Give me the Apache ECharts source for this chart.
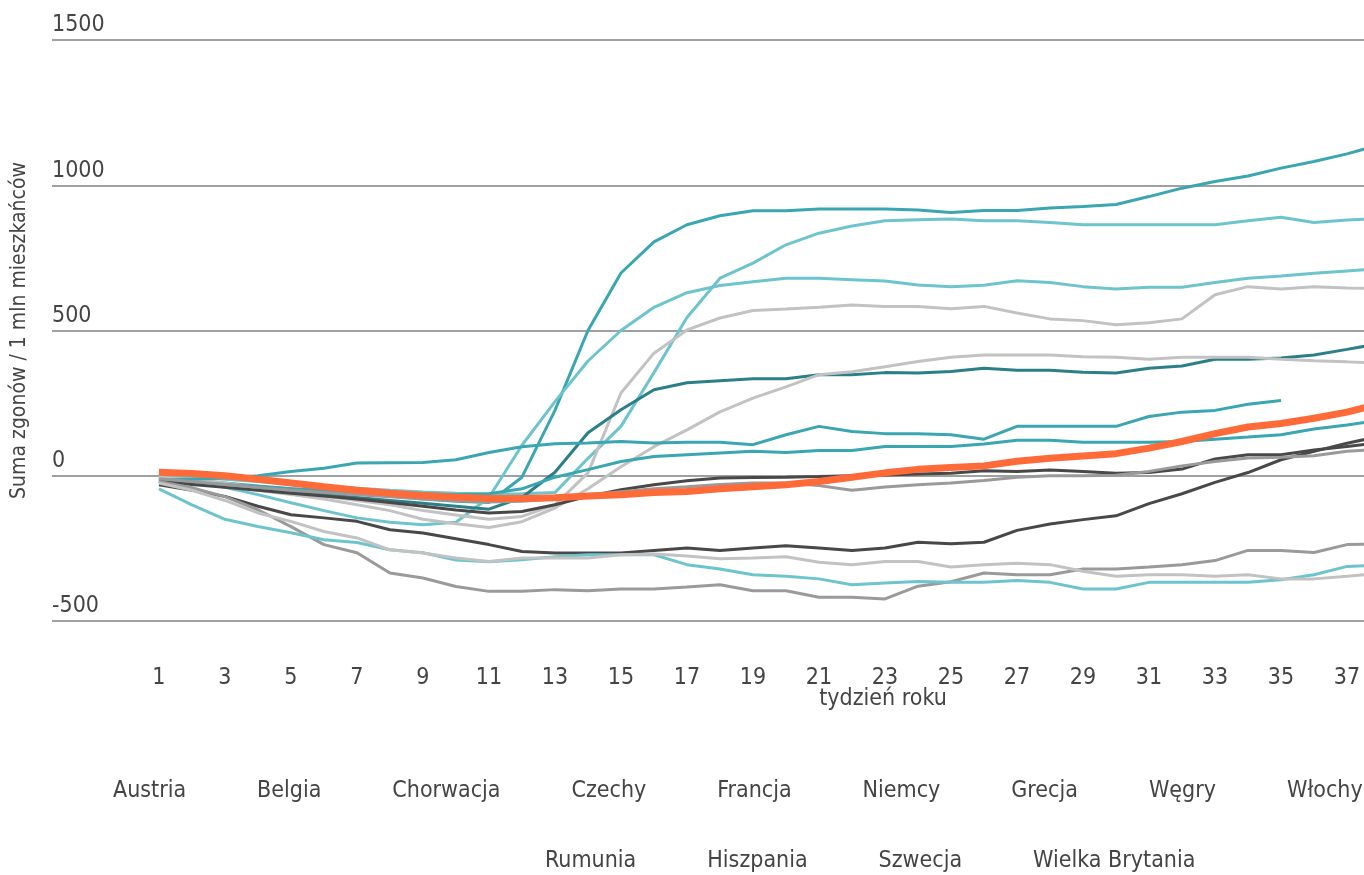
<!DOCTYPE html>
<html>
<head>
<meta charset="utf-8">
<title>Suma zgonów / 1 mln mieszkańców</title>
<script src="https://cdn.jsdelivr.net/npm/echarts@6/dist/echarts.min.js"></script>
<style>
    html, body { margin: 0; padding: 0; background: #fff; }
    #main { width: 1364px; height: 875px; }
</style>
</head>
<body>
<div id="main"></div>
<script>
// tygodnie roku
const weeks = [1, 2, 3, 4, 5, 6, 7, 8, 9, 10, 11, 12, 13, 14, 15, 16, 17, 18, 19, 20,
    21, 22, 23, 24, 25, 26, 27, 28, 29, 30, 31, 32, 33, 34, 35, 36, 37, 38];
const weekTicks = [1, 3, 5, 7, 9, 11, 13, 15, 17, 19, 21, 23, 25, 27, 29, 31, 33, 35, 37];

const hiszpania = [-10, -15, -25, -35, -45, -55, -62, -70, -80, -88, -92, -5, 225, 500, 698, 805, 864, 895, 912, 912,
    918, 918, 918, 915, 906, 913, 913, 922, 927, 934, 961, 990, 1013, 1032, 1059, 1082, 1108, 1140];
const wielkaBrytania = [0, -5, -12, -20, -28, -36, -43, -50, -56, -60, -63, -62, -58, 60, 170, 355, 545, 680, 732, 795,
    835, 860, 878, 881, 884, 878, 878, 872, 864, 864, 864, 864, 864, 878, 890, 872, 880, 885];
const wlochy = [-5, -20, -40, -65, -93, -120, -145, -160, -169, -160, -75, 105, 255, 395, 500, 580, 630, 655, 668, 680,
    680, 675, 670, 657, 651, 656, 671, 665, 651, 643, 649, 649, 665, 680, 688, 697, 705, 713];
const belgia = [-5, -15, -25, -40, -55, -70, -85, -100, -120, -135, -150, -140, -100, 10, 285, 422, 502, 543, 569, 574,
    580, 588, 583, 583, 575, 583, 560, 540, 534, 520, 527, 540, 623, 651, 643, 651, 646, 645];
const francja = [-15, -25, -35, -45, -55, -65, -75, -85, -95, -105, -115, -75, 12, 148, 227, 296, 320, 327, 334, 334,
    348, 348, 355, 354, 359, 370, 363, 363, 356, 354, 370, 378, 401, 401, 405, 416, 435, 455];
const szwecja = [-10, -20, -35, -50, -65, -80, -100, -120, -150, -165, -178, -158, -111, -45, 31, 100, 158, 220, 267, 306,
    348, 358, 375, 393, 408, 416, 416, 416, 410, 408, 401, 408, 408, 408, 401, 396, 392, 387];
const holandia = [-15, -12, -8, 0, 15, 26, 44, 45, 46, 55, 80, 100, 110, 113, 118, 113, 115, 115, 107, 141,
    170, 152, 145, 145, 141, 126, 170, 170, 170, 170, 204, 219, 225, 246, 259, null, null, null];
const austria = [-20, -25, -30, -38, -45, -50, -55, -60, -62, -65, -62, -45, -5, 21, 49, 66, 72, 78, 84, 80,
    87, 87, 101, 101, 101, 109, 122, 122, 115, 115, 115, 118, 126, 133, 141, 161, 175, 191];
const rumunia = [-31, -50, -71, -105, -134, -145, -157, -186, -197, -217, -237, -261, -266, -266, -266, -257, -249, -257, -249, -241,
    -249, -257, -249, -229, -234, -229, -188, -166, -151, -138, -96, -62, -23, 11, 55, 84, 112, 136];
const czechy = [-20, -30, -40, -50, -60, -70, -80, -92, -105, -118, -128, -123, -100, -71, -48, -31, -17, -8, -6, -5,
    -3, 0, 3, 6, 9, 17, 15, 20, 15, 9, 11, 23, 58, 72, 72, 89, 101, 113];
const wegry = [-10, -20, -30, -40, -50, -58, -65, -72, -80, -85, -90, -88, -80, -65, -55, -45, -38, -30, -25, -25,
    -34, -50, -39, -31, -25, -16, -5, 0, 0, 2, 15, 34, 49, 61, 64, 69, 84, 92];
const niemcy = [-20, -41, -72, -117, -175, -237, -265, -335, -352, -381, -398, -398, -392, -396, -390, -390, -383, -375, -396, -396,
    -418, -418, -424, -380, -365, -335, -341, -341, -321, -321, -314, -306, -292, -257, -257, -264, -237, -235];
const chorwacja = [-45, -100, -150, -175, -196, -220, -230, -255, -265, -290, -296, -289, -279, -272, -272, -272, -306, -321, -341, -346,
    -355, -375, -369, -364, -367, -367, -361, -367, -390, -390, -367, -367, -367, -367, -358, -341, -312, -308];
const grecja = [-25, -50, -85, -128, -157, -192, -214, -255, -266, -283, -295, -283, -283, -283, -272, -269, -276, -286, -283, -279,
    -298, -306, -295, -295, -314, -306, -301, -306, -329, -346, -341, -341, -346, -341, -355, -355, -346, -336];
const polska = [12, 8, 0, -12, -25, -38, -50, -60, -68, -74, -78, -78, -76, -70, -65, -58, -54, -45, -38, -31,
    -20, -5, 10, 22, 28, 34, 50, 60, 68, 76, 95, 118, 145, 168, 180, 198, 219, 247];

const legendRow1 = ['Austria', 'Belgia', 'Chorwacja', 'Czechy', 'Francja', 'Niemcy', 'Grecja', 'Węgry', 'Włochy'];
const legendRow2 = ['Rumunia', 'Hiszpania', 'Szwecja', 'Wielka Brytania'];

const FONT = "'Liberation Sans Narrow', 'DejaVu Sans Condensed', 'Roboto Condensed', sans-serif";
const TEXT = '#444444';

const TEAL = '#3aa6b1';
const LIGHT_TEAL = '#6dc4cc';
const DARK_TEAL = '#2b7f87';
const LIGHT_GRAY = '#c2c2c2';
const MID_GRAY = '#9a9a9a';
const DARK_GRAY = '#484848';
const ORANGE = '#ff6a39';

function makeLine(name, values, color, width) {
    return {
        name: name,
        type: 'line',
        data: weeks.map((w, i) => [w, values[i]]),
        symbol: 'none',
        color: color,
        lineStyle: { color: color, width: width || 3 },
        z: width ? 3 : 2
    };
}

// legenda bez ikon, sam tekst
function makeLegend(names, left, top) {
    return {
        data: names,
        left: left,
        top: top,
        width: 1300,
        padding: 0,
        icon: 'none',
        itemWidth: 0,
        itemHeight: 10,
        itemGap: 66,
        selectedMode: false,
        textStyle: { fontSize: 23, color: TEXT, fontFamily: FONT }
    };
}

function init() {
    const dom = document.getElementById('main');
    const chart = echarts.init(dom, null, { renderer: 'canvas' });

    const options = {
        animation: false,
        textStyle: { fontFamily: FONT },
        grid: { left: 52, right: 0, top: 40, bottom: 254, containLabel: false, outerBoundsMode: 'none' },
        legend: [
            makeLegend(legendRow1, 108, 780),
            makeLegend(legendRow2, 540, 850)
        ],
        xAxis: {
            type: 'value',
            min: -2.24,
            max: 37.515,
            name: 'tydzień roku',
            nameLocation: 'middle',
            nameGap: 67,
            nameMoveOverlap: false,
            nameTextStyle: { fontSize: 23, color: TEXT, fontFamily: FONT, padding: [0, 0, 0, 350] },
            axisLine: { show: false },
            axisTick: { show: false },
            splitLine: { show: false },
            axisLabel: {
                customValues: weekTicks,
                margin: 46,
                fontSize: 23,
                color: TEXT,
                fontFamily: FONT
            }
        },
        yAxis: {
            type: 'value',
            min: -500,
            max: 1500,
            interval: 500,
            name: 'Suma zgonów / 1 mln mieszkańców',
            nameLocation: 'middle',
            nameGap: 22,
            nameTextStyle: { fontSize: 21, color: TEXT, fontFamily: FONT },
            axisLine: { show: false },
            axisTick: { show: false },
            splitLine: { lineStyle: { color: '#a0a0a0', width: 2 } },
            axisLabel: {
                inside: true,
                margin: 0,
                verticalAlign: 'bottom',
                padding: [0, 0, 3, 0],
                fontSize: 23,
                color: TEXT,
                fontFamily: FONT,
                formatter: (v) => String(v)
            }
        },
        series: [
            makeLine('Hiszpania', hiszpania, TEAL),
            makeLine('Wielka Brytania', wielkaBrytania, LIGHT_TEAL),
            makeLine('Włochy', wlochy, LIGHT_TEAL),
            makeLine('Belgia', belgia, LIGHT_GRAY),
            makeLine('Francja', francja, DARK_TEAL),
            makeLine('Szwecja', szwecja, LIGHT_GRAY),
            makeLine('Holandia', holandia, TEAL),
            makeLine('Austria', austria, TEAL),
            makeLine('Rumunia', rumunia, DARK_GRAY),
            makeLine('Czechy', czechy, DARK_GRAY),
            makeLine('Węgry', wegry, MID_GRAY),
            makeLine('Niemcy', niemcy, MID_GRAY),
            makeLine('Chorwacja', chorwacja, LIGHT_TEAL),
            makeLine('Grecja', grecja, LIGHT_GRAY),
            makeLine('Polska', polska, ORANGE, 7)
        ]
    };
    chart.setOption(options);
}

init();
</script>
</body>
</html>
